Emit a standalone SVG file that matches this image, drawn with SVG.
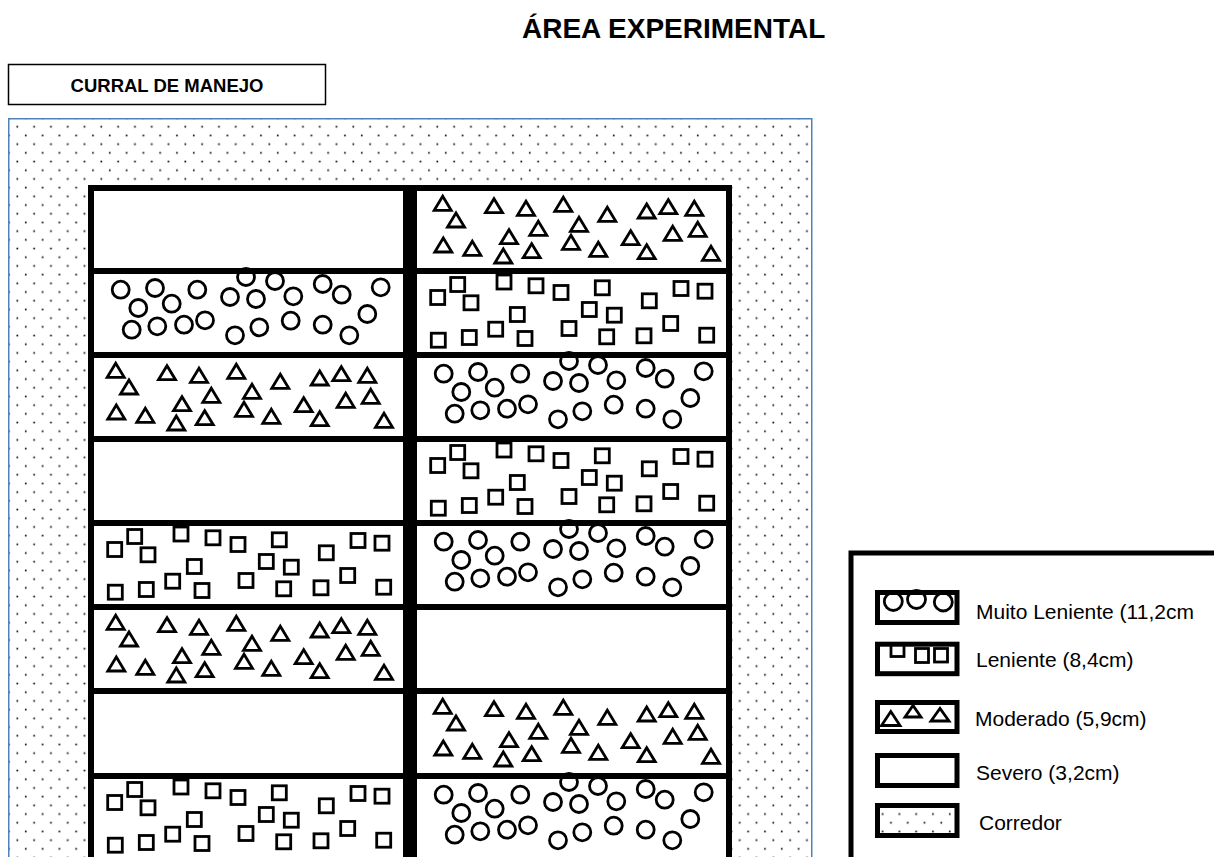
<svg xmlns="http://www.w3.org/2000/svg" xmlns:xlink="http://www.w3.org/1999/xlink" width="1214" height="857" viewBox="0 0 1214 857">
<style>
.sym{fill:none;stroke:#000;stroke-width:2.8}
.cell{fill:#fff;stroke:none}
.lbl{font-family:"Liberation Sans",Arial,sans-serif;font-size:21px;fill:#000}
.bold{font-family:"Liberation Sans",Arial,sans-serif;font-weight:bold;fill:#000}
</style>
<defs>
<pattern id="dots" patternUnits="userSpaceOnUse" x="13.1" y="122.35" width="16.8" height="17.4">
<rect width="16.8" height="17.4" fill="#fff"/>
<rect x="3.4" y="3.55" width="1.7" height="1.7" fill="#111"/>
<rect x="11.8" y="12.25" width="1.7" height="1.7" fill="#111"/>
</pattern>
<path id="tri" d="M-8.5 7 L8.5 7 L0 -7 Z"/>
<rect id="sq" x="-7" y="-7" width="14" height="14"/>
<g id="circPat" class="sym">
<circle cx="26.7" cy="15.7" r="8.5"/><circle cx="61" cy="14" r="8.5"/><circle cx="103.3" cy="15.7" r="8.5"/>
<circle cx="44.3" cy="34" r="8.5"/><circle cx="77.7" cy="29.7" r="8.5"/><circle cx="37.7" cy="55.7" r="8.5"/>
<circle cx="63.3" cy="52.3" r="8.5"/><circle cx="90" cy="50.7" r="8.5"/><circle cx="111" cy="46.3" r="8.5"/>
<circle cx="152" cy="3" r="8.5"/><circle cx="181" cy="7" r="8.5"/><circle cx="136" cy="23" r="8.5"/>
<circle cx="162" cy="25" r="8.5"/><circle cx="199.3" cy="22.3" r="8.5"/><circle cx="228.7" cy="10" r="8.5"/>
<circle cx="247.7" cy="20.7" r="8.5"/><circle cx="286.7" cy="13.3" r="8.5"/><circle cx="141" cy="61.3" r="8.5"/>
<circle cx="165.3" cy="53.3" r="8.5"/><circle cx="196.7" cy="46.7" r="8.5"/><circle cx="228.7" cy="50.7" r="8.5"/>
<circle cx="255.3" cy="61.3" r="8.5"/><circle cx="273.3" cy="40" r="8.5"/>
</g>
<g id="sqPat" class="sym">
<use href="#sq" x="20.7" y="23.5"/><use href="#sq" x="40.7" y="10.5"/><use href="#sq" x="54" y="28.8"/>
<use href="#sq" x="87" y="8"/><use href="#sq" x="119" y="11.8"/><use href="#sq" x="144" y="18.5"/>
<use href="#sq" x="185.3" y="13.8"/><use href="#sq" x="232.3" y="26.8"/><use href="#sq" x="264" y="14.5"/>
<use href="#sq" x="288" y="17.2"/><use href="#sq" x="100.3" y="40.5"/><use href="#sq" x="172.3" y="35.5"/>
<use href="#sq" x="197.3" y="41.2"/><use href="#sq" x="253.7" y="49.5"/><use href="#sq" x="21.3" y="66.2"/>
<use href="#sq" x="52.3" y="63.5"/><use href="#sq" x="78.7" y="55.2"/><use href="#sq" x="108" y="64.5"/>
<use href="#sq" x="152" y="54.5"/><use href="#sq" x="189.7" y="62.8"/><use href="#sq" x="227" y="61.8"/>
<use href="#sq" x="289.7" y="61.2"/>
</g>
<g id="triPat" class="sym">
<use href="#tri" x="25.7" y="12.3"/><use href="#tri" x="39" y="29"/><use href="#tri" x="77" y="14.7"/>
<use href="#tri" x="109" y="17.3"/><use href="#tri" x="146.3" y="13.3"/><use href="#tri" x="190.3" y="23.3"/>
<use href="#tri" x="229.7" y="20"/><use href="#tri" x="251.3" y="15.7"/><use href="#tri" x="277.3" y="17.3"/>
<use href="#tri" x="121.3" y="37.3"/><use href="#tri" x="162" y="33.3"/><use href="#tri" x="92" y="45.7"/>
<use href="#tri" x="26.3" y="54"/><use href="#tri" x="55.3" y="57.3"/><use href="#tri" x="86.3" y="65"/>
<use href="#tri" x="114.7" y="59.7"/><use href="#tri" x="154" y="51.3"/><use href="#tri" x="181.3" y="58.3"/>
<use href="#tri" x="213.7" y="46.7"/><use href="#tri" x="229.7" y="60.7"/><use href="#tri" x="255.7" y="42.3"/>
<use href="#tri" x="280.7" y="38.3"/><use href="#tri" x="294" y="62.3"/>
</g>
</defs>
<rect width="1214" height="857" fill="#fff"/>
<text class="bold" x="522" y="38" font-size="28">ÁREA EXPERIMENTAL</text>
<g id="curral">
<rect x="8.5" y="64.5" width="317" height="40" fill="#fff" stroke="#000" stroke-width="1.5"/>
<text class="bold" x="167" y="91.5" font-size="18.5" text-anchor="middle">CURRAL DE MANEJO</text>
</g>
<g id="corredor">
<rect x="8.75" y="118.75" width="803" height="760" fill="url(#dots)" stroke="#4f81bd" stroke-width="1.5"/>
</g>
<g id="grid-frame">
<rect x="88" y="185" width="644" height="690" fill="#000"/>
</g>
<g id="cell-L1"><rect class="cell" x="94" y="191" width="309" height="77"/></g>
<g id="cell-L2"><rect class="cell" x="94" y="274" width="309" height="78"/></g>
<g id="cell-L3"><rect class="cell" x="94" y="358" width="309" height="78"/></g>
<g id="cell-L4"><rect class="cell" x="94" y="442" width="309" height="78"/></g>
<g id="cell-L5"><rect class="cell" x="94" y="526" width="309" height="78"/></g>
<g id="cell-L6"><rect class="cell" x="94" y="610" width="309" height="78"/></g>
<g id="cell-L7"><rect class="cell" x="94" y="694" width="309" height="79"/></g>
<g id="cell-L8"><rect class="cell" x="94" y="779" width="309" height="90"/></g>
<g id="cell-R1"><rect class="cell" x="417" y="191" width="309" height="77"/></g>
<g id="cell-R2"><rect class="cell" x="417" y="274" width="309" height="78"/></g>
<g id="cell-R3"><rect class="cell" x="417" y="358" width="309" height="78"/></g>
<g id="cell-R4"><rect class="cell" x="417" y="442" width="309" height="78"/></g>
<g id="cell-R5"><rect class="cell" x="417" y="526" width="309" height="78"/></g>
<g id="cell-R6"><rect class="cell" x="417" y="610" width="309" height="78"/></g>
<g id="cell-R7"><rect class="cell" x="417" y="694" width="309" height="79"/></g>
<g id="cell-R8"><rect class="cell" x="417" y="779" width="309" height="90"/></g>
<g id="symbols">
<use href="#circPat" transform="translate(94,274)"/>
<use href="#triPat" transform="translate(90,358)"/>
<use href="#sqPat" transform="translate(94,526)"/>
<use href="#triPat" transform="translate(90,610)"/>
<use href="#sqPat" transform="translate(94,779)"/>
<use href="#triPat" transform="translate(417,191)"/>
<use href="#sqPat" transform="translate(417,274)"/>
<use href="#circPat" transform="translate(417,358)"/>
<use href="#sqPat" transform="translate(417,442)"/>
<use href="#circPat" transform="translate(417,526)"/>
<use href="#triPat" transform="translate(417,694)"/>
<use href="#circPat" transform="translate(417,779)"/>
</g>
<g id="legend">
<rect x="851" y="553" width="400" height="400" fill="#fff" stroke="#000" stroke-width="5"/>
<g id="leg-muito">
<g class="sym"><circle cx="893.3" cy="601.5" r="9"/><circle cx="916.5" cy="599.5" r="9"/><circle cx="943.3" cy="602" r="9"/></g>
<rect x="877.5" y="592.5" width="79.5" height="30" fill="none" stroke="#000" stroke-width="5"/>
<text class="lbl" x="976" y="619">Muito Leniente (11,2cm</text>
</g>
<g id="leg-leniente">
<g class="sym"><rect x="891" y="644" width="13" height="12.5"/><rect x="915.5" y="648.5" width="13" height="14"/><rect x="934.5" y="648.5" width="13" height="13.5"/></g>
<rect x="877.5" y="644.2" width="79.5" height="29.5" fill="none" stroke="#000" stroke-width="5"/>
<text class="lbl" x="976" y="667">Leniente (8,4cm)</text>
</g>
<g id="leg-moderado">
<g class="sym"><path d="M881.5 725.5 L900 725.5 L890.8 711.5 Z"/><path d="M905 717 L921 717 L913 705.5 Z"/><path d="M931 721 L949 721 L940 708.5 Z"/></g>
<rect x="877.5" y="702.5" width="79.5" height="29" fill="none" stroke="#000" stroke-width="5"/>
<text class="lbl" x="975" y="726">Moderado (5,9cm)</text>
</g>
<g id="leg-severo">
<rect x="877.5" y="755.5" width="79.5" height="30" fill="#fff" stroke="#000" stroke-width="5"/>
<text class="lbl" x="976" y="780">Severo (3,2cm)</text>
</g>
<g id="leg-corredor">
<rect x="877.5" y="805.5" width="79.5" height="30" fill="url(#dots)" stroke="#000" stroke-width="5"/>
<text class="lbl" x="979" y="830">Corredor</text>
</g>
</g>
</svg>
